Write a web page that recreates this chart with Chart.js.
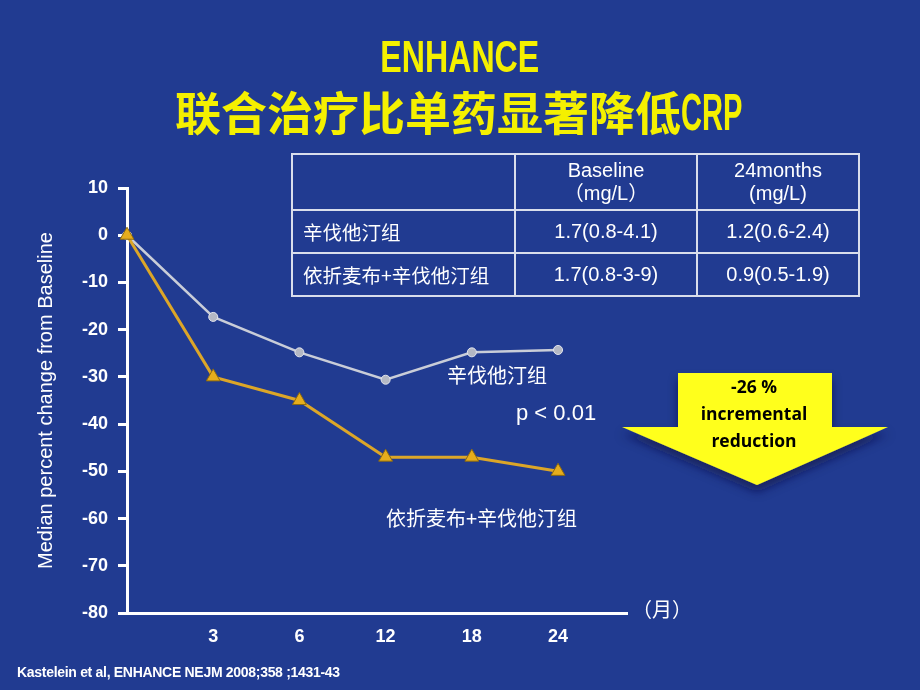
<!DOCTYPE html>
<html>
<head>
<meta charset="utf-8">
<script src="https://cdn.jsdelivr.net/npm/chart.js@4.4.1/dist/chart.umd.min.js"></script>
<style>
  html, body { margin: 0; padding: 0; background: #213b91; }
  #wrap { position: relative; width: 920px; height: 690px; overflow: hidden; background: #213b91; }
  #c { position: absolute; left: 0; top: 0; }
  .t1, .t2 { position: absolute; left: 0; width: 920px; text-align: center; color: #f4f000; font-weight: bold; white-space: nowrap; }
  .t1 { top: 31px; font-family: "Liberation Sans", sans-serif; font-size: 44px; line-height: 52px; }
  .t1 span { display: inline-block; transform: scaleX(0.73); }
  .t2 { top: 84px; font-family: "Noto Sans CJK SC", sans-serif; font-size: 46px; line-height: 52px; }
  .t2 .lat { display: inline-block; font-family: "Liberation Sans", sans-serif; font-size: 52px; transform: scaleX(0.56); transform-origin: 0 50%; margin-right: -46px; }
  table { position: absolute; left: 291px; top: 153px; border-collapse: collapse; color: #fff;
          font-family: "Liberation Sans", "Noto Sans CJK SC", sans-serif; font-size: 20px; }
  td { border: 2px solid #d9deec; padding: 0; }
  td.c { text-align: center; }
  td.l { text-align: left; padding-left: 10px; font-family: "Noto Sans CJK SC", sans-serif; font-size: 19.5px; }
  .ann { position: absolute; color: #fff; white-space: nowrap; font-family: "Noto Sans CJK SC", "Liberation Sans", sans-serif; }
  .foot { position: absolute; left: 17px; top: 663px; line-height: 18px; color: #fff; font-family: "Liberation Sans", sans-serif; font-weight: bold; font-size: 14px; letter-spacing: -0.3px; }
  svg { position: absolute; left: 610px; top: 362px; }
</style>
</head>
<body>
<div id="wrap">
  <canvas id="c" width="920" height="690"></canvas>
  <div class="t1"><span id="title1"></span></div>
  <div class="t2" id="title2"></div>
  <table id="tbl"></table>
  <div class="ann" id="lblSimva" style="left:447px; top:362px; font-size:20px; line-height:26px;"></div>
  <div class="ann" id="lblP" style="left:516px; top:399px; font-size:22px; line-height:28px; font-family:'Liberation Sans',sans-serif;"></div>
  <div class="ann" id="lblCombo" style="left:386px; top:505px; font-size:20px; line-height:26px;"></div>
  <div class="ann" id="lblUnit" style="left:632px; top:596px; font-size:20px; line-height:26px;"></div>
  <svg width="290" height="140" viewBox="0 0 290 140">
    <defs>
      <filter id="sh" x="-20%" y="-20%" width="140%" height="160%">
        <feDropShadow dx="0" dy="7" stdDeviation="5" flood-color="#0b1640" flood-opacity="0.6"/>
      </filter>
    </defs>
    <polygon points="68,11 222,11 222,65 278,65 147,123 12,65 68,65" fill="#ffff1e" filter="url(#sh)"/>
    <g id="arrowText" font-family="Open Sans, Liberation Sans, sans-serif" font-weight="bold" font-size="17.5" fill="#000" text-anchor="middle"></g>
  </svg>
  <div class="foot" id="foot"></div>
</div>
<script>
// ---- data ----
const monthLabels = ['0', '3', '6', '12', '18', '24'];
const simvaChange = [0, -17.3, -24.8, -30.6, -24.8, -24.3];
const comboChange = [0, -30, -35, -47, -47, -50];
const yTicks = [10, 0, -10, -20, -30, -40, -50, -60, -70, -80];

const titleLine1 = 'ENHANCE';
const titleLine2Cjk = '联合治疗比单药显著降低';
const titleLine2Lat = 'CRP';
const tableHeader = ['', ['Baseline', '（mg/L）'], ['24months', '(mg/L)']];
const tableRows = [
  ['辛伐他汀组', '1.7(0.8-4.1)', '1.2(0.6-2.4)'],
  ['依折麦布+辛伐他汀组', '1.7(0.8-3-9)', '0.9(0.5-1.9)']
];
const seriesNames = ['辛伐他汀组', '依折麦布+辛伐他汀组'];
const pText = 'p < 0.01';
const unitText = '（月）';
const yTitle = 'Median percent change from Baseline';
const arrowLines = ['-26 %', 'incremental', 'reduction'];
const footText = 'Kastelein et al, ENHANCE NEJM 2008;358 ;1431-43';

// ---- text overlays ----
document.getElementById('title1').textContent = titleLine1;
document.getElementById('title2').innerHTML = titleLine2Cjk + '<span class="lat">' + titleLine2Lat + '</span>';
document.getElementById('lblSimva').textContent = seriesNames[0];
document.getElementById('lblCombo').textContent = seriesNames[1];
document.getElementById('lblP').textContent = pText;
document.getElementById('lblUnit').textContent = unitText;
document.getElementById('foot').textContent = footText;

const tbl = document.getElementById('tbl');
const colW = [221, 180, 160];
const rowH = [54, 41, 41];
(function buildTable() {
  const hr = document.createElement('tr');
  tableHeader.forEach((h, i) => {
    const td = document.createElement('td');
    td.className = 'c';
    td.style.width = colW[i] + 'px';
    td.style.height = rowH[0] + 'px';
    td.style.lineHeight = '23px';
    if (Array.isArray(h)) td.innerHTML = h.join('<br>');
    hr.appendChild(td);
  });
  tbl.appendChild(hr);
  tableRows.forEach((r, ri) => {
    const tr = document.createElement('tr');
    r.forEach((v, i) => {
      const td = document.createElement('td');
      td.className = i === 0 ? 'l' : 'c';
      td.style.height = rowH[ri + 1] + 'px';
      td.textContent = v;
      tr.appendChild(td);
    });
    tbl.appendChild(tr);
  });
})();

const g = document.getElementById('arrowText');
arrowLines.forEach((s, i) => {
  const t = document.createElementNS('http://www.w3.org/2000/svg', 'text');
  t.setAttribute('x', 144);
  t.setAttribute('y', 31 + i * 27);
  t.textContent = s;
  g.appendChild(t);
});

// ---- chart ----
const toPts = arr => arr.map((v, i) => ({ x: i, y: v }));

new Chart(document.getElementById('c'), {
  type: 'line',
  data: {
    datasets: [
      {
        label: seriesNames[1],
        data: toPts(comboChange),
        borderColor: '#dca628',
        borderWidth: 3,
        pointStyle: 'triangle',
        pointRadius: 8,
        pointBackgroundColor: '#e6ad1c',
        pointBorderColor: '#8d6a0e',
        pointBorderWidth: 1,
        tension: 0,
        clip: false
      },
      {
        label: seriesNames[0],
        data: toPts(simvaChange),
        borderColor: '#c9cdd8',
        borderWidth: 2.5,
        pointStyle: 'circle',
        pointRadius: 4.5,
        pointBackgroundColor: '#b4b8c4',
        pointBorderColor: '#e4e6ee',
        pointBorderWidth: 1,
        tension: 0,
        clip: false
      }
    ]
  },
  options: {
    responsive: false,
    animation: false,
    devicePixelRatio: 1,
    layout: { padding: { top: 188, right: 293, bottom: 0, left: 0 } },
    plugins: { legend: { display: false }, tooltip: { enabled: false } },
    scales: {
      x: {
        type: 'linear',
        min: 0,
        max: 5.8,
        afterFit: s => { s.height = 77; },
        afterBuildTicks: s => { s.ticks = monthLabels.slice(1).map((_, i) => ({ value: i + 1 })); },
        grid: { display: true, drawOnChartArea: false, drawTicks: false },
        border: { color: '#ffffff', width: 3 },
        ticks: {
          color: '#ffffff',
          padding: 13,
          font: { family: 'Liberation Sans', weight: 'bold', size: 18 },
          callback: v => monthLabels[v]
        }
      },
      y: {
        type: 'linear',
        min: -80,
        max: 10,
        afterFit: s => { s.width = 127; },
        afterBuildTicks: s => { s.ticks = yTicks.map(v => ({ value: v })); },
        grid: { display: true, drawOnChartArea: false, drawTicks: true, tickLength: 9, tickColor: '#ffffff', tickWidth: 3 },
        border: { color: '#ffffff', width: 3 },
        ticks: {
          color: '#ffffff',
          padding: 10,
          font: { family: 'Liberation Sans', weight: 'bold', size: 18 }
        },
        title: {
          display: true,
          text: yTitle,
          color: '#ffffff',
          font: { family: 'Liberation Sans', size: 20 },
          padding: { top: 34, bottom: 0 }
        }
      }
    }
  }
});
</script>
</body>
</html>
